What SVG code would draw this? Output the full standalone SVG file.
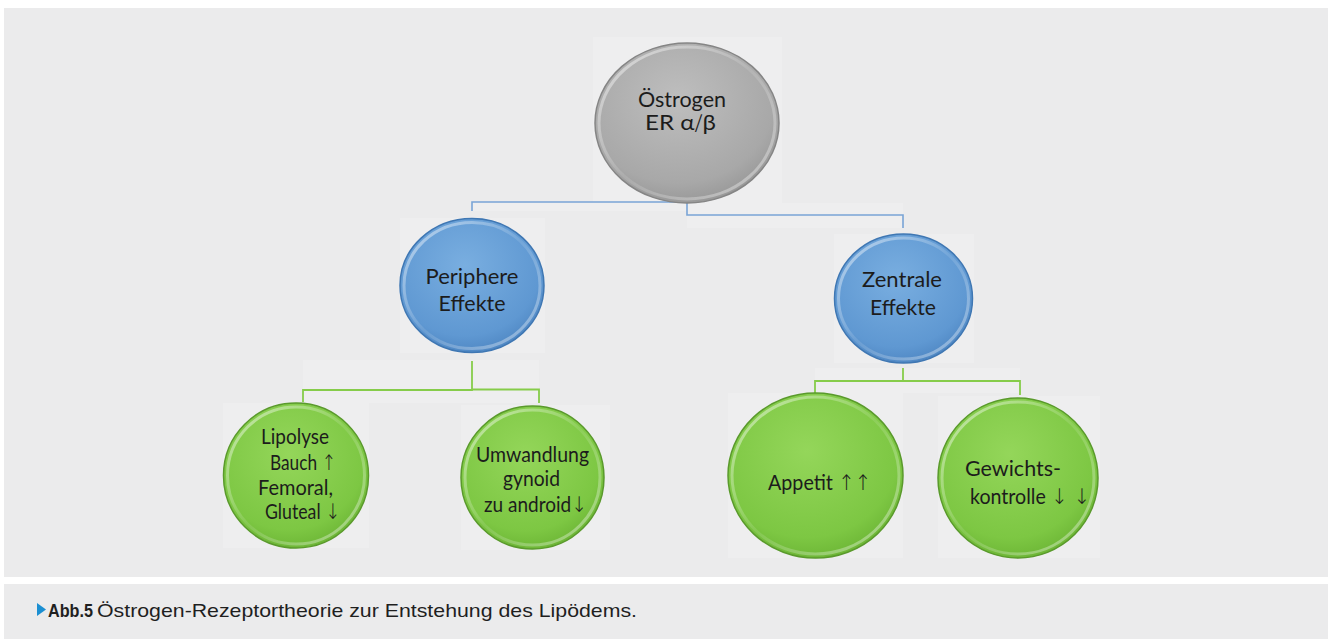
<svg xmlns="http://www.w3.org/2000/svg" width="1330" height="639" viewBox="0 0 1330 639">
  <style>
    .panel { fill: #ebebec; }
    .tile { fill: #eeeeef; }
    .lbl { font-family: Lato, "Liberation Sans", sans-serif; font-size: 21.5px; fill: #1c1c1c; text-anchor: middle; }
    .arr { font-family: "DejaVu Sans", sans-serif; font-weight: 300; }
    .blue-line { fill: none; stroke: #79a4d6; stroke-width: 1.6; }
    .green-line { fill: none; stroke: #86cc4a; stroke-width: 1.8; }
    .cap { font-family: "Liberation Sans", sans-serif; font-size: 19px; fill: #1f1f1f; }
  </style>
  <defs>
    <radialGradient id="gGray" cx="0.45" cy="0.35" r="0.7">
      <stop offset="0" stop-color="#bebebe"/>
      <stop offset="0.75" stop-color="#a8a8a8"/>
      <stop offset="1" stop-color="#939393"/>
    </radialGradient>
    <radialGradient id="gBlue" cx="0.45" cy="0.35" r="0.7">
      <stop offset="0" stop-color="#79aee0"/>
      <stop offset="0.75" stop-color="#5f98d2"/>
      <stop offset="1" stop-color="#4a82bf"/>
    </radialGradient>
    <radialGradient id="gGreen" cx="0.45" cy="0.35" r="0.7">
      <stop offset="0" stop-color="#94d65a"/>
      <stop offset="0.75" stop-color="#7dc743"/>
      <stop offset="1" stop-color="#68b132"/>
    </radialGradient>
    <linearGradient id="rimLight" x1="0" y1="0" x2="1" y2="1">
      <stop offset="0" stop-color="#ffffff" stop-opacity="0.55"/>
      <stop offset="0.5" stop-color="#ffffff" stop-opacity="0.1"/>
      <stop offset="1" stop-color="#ffffff" stop-opacity="0.45"/>
    </linearGradient>
  </defs>

  <!-- page panels -->
  <rect x="0" y="0" width="1330" height="639" fill="#ffffff"/>
  <rect class="panel" x="4" y="8" width="1324" height="569"/>
  <rect class="panel" x="4" y="584" width="1324" height="55"/>

  <!-- faint tiles behind shapes -->
  <rect class="tile" x="593" y="37" width="189" height="166"/>
  <rect class="tile" x="471" y="202" width="216" height="9"/>
  <rect class="tile" x="687" y="203" width="216" height="25"/>
  <rect class="tile" x="400" y="218" width="145" height="135"/>
  <rect class="tile" x="834" y="234" width="140" height="129"/>
  <rect class="tile" x="303" y="360" width="236" height="43"/>
  <rect class="tile" x="815" y="368" width="205" height="25"/>
  <rect class="tile" x="223" y="403" width="146" height="145"/>
  <rect class="tile" x="461" y="405" width="149" height="145"/>
  <rect class="tile" x="728" y="393" width="175" height="165"/>
  <rect class="tile" x="938" y="396" width="162" height="162"/>

  <!-- connectors -->
  <g id="connectors">
    <path class="blue-line" d="M687 202 H472 V211"/>
    <path class="blue-line" d="M687 202 V215 H903 V228"/>
    <path class="green-line" d="M472 361 V390 H303 V402"/>
    <path class="green-line" d="M472 389.5 H539 V403"/>
    <path class="green-line" d="M903 368 V381 H815 V393"/>
    <path class="green-line" d="M903 381 H1020 V395"/>
  </g>

  <!-- top node -->
  <g id="node-oestrogen">
    <ellipse cx="687" cy="123" rx="92" ry="80" fill="url(#gGray)" stroke="#858585" stroke-width="1.5"/>
    <ellipse cx="687" cy="123" rx="88" ry="76" fill="none" stroke="url(#rimLight)" stroke-width="3"/>
    <text class="lbl" x="682" y="107" textLength="88" lengthAdjust="spacingAndGlyphs">Östrogen</text>
    <text class="lbl" x="680.5" y="130" textLength="71" lengthAdjust="spacingAndGlyphs">ER α<tspan class="arr">∕</tspan>β</text>
  </g>

  <!-- second level -->
  <g id="node-periphere">
    <ellipse cx="472" cy="285.5" rx="72" ry="67" fill="url(#gBlue)" stroke="#3f77b3" stroke-width="1.5"/>
    <ellipse cx="472" cy="285.5" rx="68" ry="63" fill="none" stroke="url(#rimLight)" stroke-width="3"/>
    <text class="lbl" x="472" y="284" textLength="93" lengthAdjust="spacingAndGlyphs">Periphere</text>
    <text class="lbl" x="472" y="311" textLength="67" lengthAdjust="spacingAndGlyphs">Effekte</text>
  </g>
  <g id="node-zentrale">
    <ellipse cx="903.5" cy="298.5" rx="69" ry="64.5" fill="url(#gBlue)" stroke="#3f77b3" stroke-width="1.5"/>
    <ellipse cx="903.5" cy="298.5" rx="65" ry="60.5" fill="none" stroke="url(#rimLight)" stroke-width="3"/>
    <text class="lbl" x="902" y="287" textLength="80" lengthAdjust="spacingAndGlyphs">Zentrale</text>
    <text class="lbl" x="903" y="315" textLength="66" lengthAdjust="spacingAndGlyphs">Effekte</text>
  </g>

  <!-- third level -->
  <g id="node-lipolyse">
    <circle cx="296" cy="475.5" r="72.5" fill="url(#gGreen)" stroke="#5a9a2c" stroke-width="1.5"/>
    <circle cx="296" cy="475.5" r="68.5" fill="none" stroke="url(#rimLight)" stroke-width="3"/>
    <text class="lbl" x="295" y="444" textLength="68" lengthAdjust="spacingAndGlyphs">Lipolyse</text>
    <text class="lbl" x="303" y="470" textLength="66" lengthAdjust="spacingAndGlyphs">Bauch <tspan class="arr">↑</tspan></text>
    <text class="lbl" x="295.5" y="495" textLength="75" lengthAdjust="spacingAndGlyphs">Femoral,</text>
    <text class="lbl" x="302.5" y="519" textLength="75" lengthAdjust="spacingAndGlyphs">Gluteal <tspan class="arr">↓</tspan></text>
  </g>
  <g id="node-umwandlung">
    <circle cx="532.5" cy="477.5" r="71.5" fill="url(#gGreen)" stroke="#5a9a2c" stroke-width="1.5"/>
    <circle cx="532.5" cy="477.5" r="67.5" fill="none" stroke="url(#rimLight)" stroke-width="3"/>
    <text class="lbl" x="532.5" y="462" textLength="113" lengthAdjust="spacingAndGlyphs">Umwandlung</text>
    <text class="lbl" x="531.5" y="486" textLength="57" lengthAdjust="spacingAndGlyphs">gynoid</text>
    <text class="lbl" x="535.5" y="512" textLength="103" lengthAdjust="spacingAndGlyphs">zu android<tspan class="arr">↓</tspan></text>
  </g>
  <g id="node-appetit">
    <ellipse cx="815.5" cy="475.5" rx="87.5" ry="82.5" fill="url(#gGreen)" stroke="#5a9a2c" stroke-width="1.5"/>
    <ellipse cx="815.5" cy="475.5" rx="83.5" ry="78.5" fill="none" stroke="url(#rimLight)" stroke-width="3"/>
    <text class="lbl" x="819.5" y="490" textLength="103" lengthAdjust="spacingAndGlyphs">Appetit <tspan class="arr">↑↑</tspan></text>
  </g>
  <g id="node-gewicht">
    <ellipse cx="1018" cy="478" rx="80" ry="80" fill="url(#gGreen)" stroke="#5a9a2c" stroke-width="1.5"/>
    <ellipse cx="1018" cy="478" rx="76" ry="76" fill="none" stroke="url(#rimLight)" stroke-width="3"/>
    <text class="lbl" x="1013" y="476" textLength="96" lengthAdjust="spacingAndGlyphs">Gewichts-</text>
    <text class="lbl" x="1030" y="504" textLength="120" lengthAdjust="spacingAndGlyphs">kontrolle <tspan class="arr">↓ ↓</tspan></text>
  </g>

  <!-- caption -->
  <g id="caption">
    <polygon points="37,603 46,609.5 37,616" fill="#1b8fd2"/>
    <text class="cap" x="48" y="617" font-weight="bold" textLength="45" lengthAdjust="spacingAndGlyphs">Abb.5</text>
    <text class="cap" x="97" y="617" textLength="540" lengthAdjust="spacingAndGlyphs">Östrogen-Rezeptortheorie zur Entstehung des Lipödems.</text>
  </g>
</svg>
